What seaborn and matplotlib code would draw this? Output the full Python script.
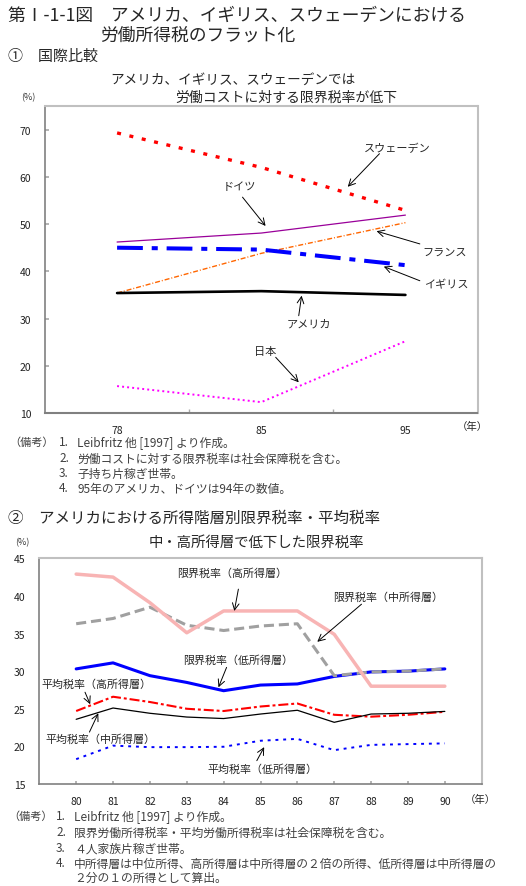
import numpy as np
import pandas as pd
import matplotlib
matplotlib.use('Agg')
import matplotlib.pyplot as plt
import seaborn as sns

# ---- データ: ① 国際比較（労働コストに対する限界税率, %）
years_top = ['78', '85', '95']
sweden = [69.3, 62.0, 52.9]
germany = [46.2, 48.1, 51.9]
france = [35.4, 43.8, 50.3]
uk = [45.0, 44.6, 41.3]
usa = [35.4, 35.8, 35.0]
japan = [15.7, 12.3, 25.2]

# ---- データ: ② アメリカにおける所得階層別限界税率・平均税率 (%)
years_bottom = [80, 81, 82, 83, 84, 85, 86, 87, 88, 89, 90]
mtr_high = [42.9, 42.5, 39.1, 35.1, 38.0, 38.0, 38.0, 34.9, 28.0, 28.0, 28.0]
mtr_mid = [36.3, 37.0, 38.5, 36.1, 35.4, 36.0, 36.3, 29.4, 29.9, 30.0, 30.3]
mtr_low = [30.3, 31.1, 29.4, 28.5, 27.4, 28.15, 28.3, 29.3, 29.9, 30.0, 30.3]
atr_high = [24.7, 26.6, 25.9, 25.0, 24.7, 25.3, 25.7, 24.2, 23.95, 24.2, 24.6]
atr_mid = [23.6, 25.1, 24.4, 23.9, 23.7, 24.3, 24.8, 23.2, 24.3, 24.4, 24.65]
atr_low = [18.3, 20.1, 19.9, 19.9, 19.95, 20.75, 21.0, 19.5, 20.2, 20.3, 20.4]

sns.set_theme(style='white')
plt.rcParams['font.family'] = ['Noto Sans CJK JP', 'DejaVu Sans']
plt.rcParams['axes.unicode_minus'] = False

fig = plt.figure(figsize=(5.26, 8.87), dpi=100)
W, H = 526.0, 887.0


def fx(px):
    return px / W


def fy(py):
    return 1 - py / H


note_color = '#404040'

# ---- 見出し
fig.text(fx(8), fy(16), '第Ⅰ-1-1図　アメリカ、イギリス、スウェーデンにおける',
         fontsize=12.8, va='center', ha='left')
fig.text(fx(100), fy(36), '労働所得税のフラット化', fontsize=12.8, va='center', ha='left')
fig.text(fx(8), fy(57), '①　国際比較', fontsize=10.8, va='center', ha='left')
fig.text(fx(110), fy(80), 'アメリカ、イギリス、スウェーデンでは', fontsize=9.8, va='center', ha='left')
fig.text(fx(175), fy(98), '労働コストに対する限界税率が低下', fontsize=10.0, va='center', ha='left')
fig.text(fx(28), fy(98), '(%)', fontsize=6.5, va='center', ha='center', color='#333333')

# ---- ① 国際比較
ax1 = fig.add_axes([fx(45), fy(414), fx(477.5) - fx(45), fy(107) - fy(414)])
pos = np.arange(len(years_top))
top_series = [
    ('スウェーデン', sweden, '#FF0000', 2.4, (1.2, 2.6)),
    ('ドイツ', germany, '#990099', 0.9, None),
    ('フランス', france, '#FF6600', 1.0, (3.6, 1.4, 0.7, 1.4)),
    ('イギリス', uk, '#0000FF', 2.9, (6.4, 2.2, 1.5, 2.2)),
    ('アメリカ', usa, '#000000', 1.9, None),
    ('日本', japan, '#FF00FF', 1.4, (1.0, 1.6)),
]
for name, vals, col, lw, dash in top_series:
    df = pd.DataFrame({'x': pos, 'y': vals})
    sns.lineplot(data=df, x='x', y='y', ax=ax1, color=col, linewidth=lw)
    line = ax1.lines[-1]
    if dash is not None:
        line.set_dashes(dash)
        line.set_dash_capstyle('butt')

ax1.set_xlim(-0.5, len(years_top) - 0.5)
ax1.set_ylim(10, 75)
ax1.set_yticks(np.arange(10, 71, 10))
ax1.set_xticks(pos)
ax1.set_xticklabels(years_top)
ax1.set_xticks(np.arange(0.5, len(years_top) - 0.5, 1), minor=True)
ax1.set_xlabel('')
ax1.set_ylabel('')
ax1.tick_params(axis='both', labelsize=7.5, colors='#222222')
ax1.tick_params(axis='y', direction='in', length=3, color='#aaaaaa', left=True, pad=10)
ax1.tick_params(axis='x', which='major', length=0, pad=9)
ax1.tick_params(axis='x', which='minor', direction='in', length=3, color='#aaaaaa', bottom=True)
for s in ['top', 'right']:
    ax1.spines[s].set_color('#c0c0c0')
    ax1.spines[s].set_linewidth(1.5)
ax1.spines['left'].set_color('#808080')
ax1.spines['bottom'].set_color('#808080')
ax1.spines['left'].set_linewidth(1.2)
ax1.spines['bottom'].set_linewidth(1.5)
fig.text(fx(472), fy(427), '（年）', fontsize=7.5, va='center', ha='center')

top_labels = [
    ('スウェーデン', (1.94, 66.1), (1.82, 64.9), (1.60, 57.9)),
    ('ドイツ', (0.85, 58.1), (0.87, 55.7), (1.03, 49.6)),
    ('フランス', (2.27, 44.2), (2.10, 45.8), (1.80, 48.5)),
    ('イギリス', (2.28, 37.2), (2.10, 38.0), (1.85, 41.0)),
    ('アメリカ', (1.33, 29.0), (1.26, 30.6), (1.28, 34.85)),
    ('日本', (1.03, 23.2), (1.10, 21.8), (1.26, 16.5)),
]
for txt, tpos, tail, head in top_labels:
    ax1.text(tpos[0], tpos[1], txt, fontsize=8, ha='center', va='center')
    ax1.annotate('', xy=head, xytext=tail,
                 arrowprops=dict(arrowstyle='->', color='black', lw=0.7,
                                 shrinkA=0, shrinkB=0))

notes_top = [
    '1.', 'Leibfritz 他 [1997] より作成。',
    '2.', '労働コストに対する限界税率は社会保障税を含む。',
    '3.', '子持ち片稼ぎ世帯。',
    '4.', '95年のアメリカ、ドイツは94年の数値。',
]
ys_top = [443, 459, 474, 489]
fig.text(fx(9), fy(443), '（備考）', fontsize=8.0, va='center', ha='left', color=note_color)
for i, y in enumerate(ys_top):
    fig.text(fx(59), fy(y), notes_top[2 * i], fontsize=8.5, va='center', ha='left', color=note_color)
    fig.text(fx(77), fy(y), notes_top[2 * i + 1], fontsize=8.5, va='center', ha='left', color=note_color)

# ---- ② アメリカにおける所得階層別限界税率・平均税率
fig.text(fx(8), fy(518), '②　アメリカにおける所得階層別限界税率・平均税率',
         fontsize=11.2, va='center', ha='left')
fig.text(fx(256), fy(543), '中・高所得層で低下した限界税率', fontsize=10.4, va='center', ha='center')
fig.text(fx(22), fy(543), '(%)', fontsize=6.5, va='center', ha='center', color='#333333')

ax2 = fig.add_axes([fx(39.3), fy(785), fx(481.7) - fx(39.3), fy(559.3) - fy(785)])
bottom_series = [
    (mtr_low, '#0000FF', 2.2, None),
    (mtr_mid, '#A0A0A0', 2.2, (3.3, 1.6)),
    (mtr_high, '#F8B4B4', 2.5, None),
    (atr_high, '#FF0000', 1.5, (4.8, 1.4, 1.4, 1.4)),
    (atr_mid, '#000000', 0.9, None),
    (atr_low, '#0000FF', 1.4, (1.5, 2.5)),
]
for vals, col, lw, dash in bottom_series:
    df = pd.DataFrame({'year': years_bottom, 'rate': vals})
    sns.lineplot(data=df, x='year', y='rate', ax=ax2, color=col, linewidth=lw)
    line = ax2.lines[-1]
    if dash is not None:
        line.set_dashes(dash)
        line.set_dash_capstyle('butt')

ax2.set_xlim(years_bottom[0] - 1, years_bottom[-1] + 1)
ax2.set_ylim(15, 45)
ax2.set_yticks(np.arange(15, 46, 5))
ax2.set_xticks(years_bottom)
ax2.set_xticklabels([str(y) for y in years_bottom])
ax2.set_xlabel('')
ax2.set_ylabel('')
ax2.tick_params(axis='both', labelsize=7.5, colors='#222222')
ax2.tick_params(axis='y', length=0, pad=10)
ax2.tick_params(axis='x', direction='in', length=2, color='#aaaaaa', bottom=True, pad=9)
for s in ['top', 'right']:
    ax2.spines[s].set_color('#c0c0c0')
    ax2.spines[s].set_linewidth(1.5)
ax2.spines['left'].set_color('#808080')
ax2.spines['bottom'].set_color('#808080')
ax2.spines['left'].set_linewidth(1.2)
ax2.spines['bottom'].set_linewidth(1.2)
fig.text(fx(480), fy(800), '（年）', fontsize=7.5, va='center', ha='center')

bottom_labels = [
    ('限界税率（高所得層）', (84.23, 43.1), (84.40, 40.9), (84.29, 38.0)),
    ('限界税率（中所得層）', (88.46, 39.9), (87.74, 38.9), (86.54, 33.9)),
    ('限界税率（低所得層）', (84.39, 31.6), (84.08, 30.5), (83.86, 27.85)),
    ('平均税率（高所得層）', (80.54, 28.3), (80.24, 27.2), (80.38, 25.6)),
    ('平均税率（中所得層）', (80.65, 21.0), (80.36, 21.9), (80.60, 24.4)),
    ('平均税率（低所得層）', (85.04, 17.0), (84.90, 18.1), (85.10, 19.9)),
]
for txt, tpos, tail, head in bottom_labels:
    ax2.text(tpos[0], tpos[1], txt, fontsize=7.9, ha='center', va='center')
    ax2.annotate('', xy=head, xytext=tail,
                 arrowprops=dict(arrowstyle='->', color='black', lw=0.7,
                                 shrinkA=0, shrinkB=0))

notes_bottom = [
    ('1.', 'Leibfritz 他 [1997] より作成。', 817),
    ('2.', '限界労働所得税率・平均労働所得税率は社会保障税を含む。', 833),
    ('3.', '４人家族片稼ぎ世帯。', 849),
    ('4.', '中所得層は中位所得、高所得層は中所得層の２倍の所得、低所得層は中所得層の', 864),
    ('', '２分の１の所得として算出。', 878),
]
fig.text(fx(8), fy(817), '（備考）', fontsize=8.0, va='center', ha='left', color=note_color)
for num, txt, y in notes_bottom:
    if num:
        fig.text(fx(56), fy(y), num, fontsize=8.5, va='center', ha='left', color=note_color)
    fig.text(fx(74), fy(y), txt, fontsize=8.5, va='center', ha='left', color=note_color)

fig.savefig('out.png', dpi=100, facecolor='white')
